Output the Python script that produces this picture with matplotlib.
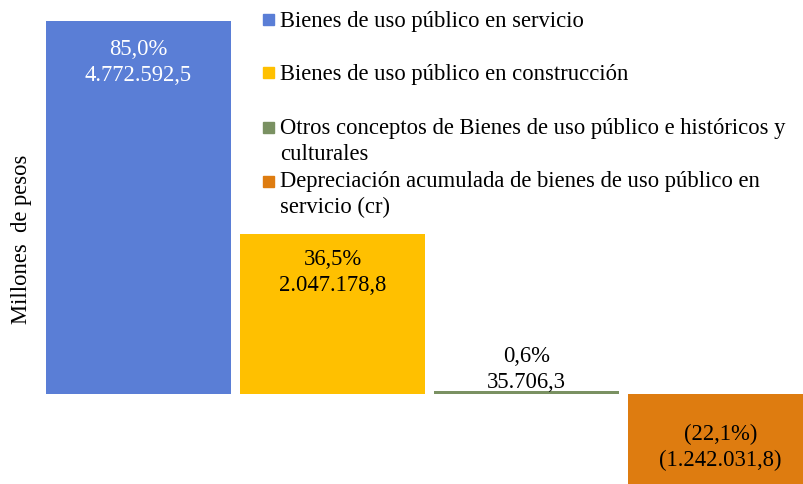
import matplotlib
matplotlib.use("Agg")
import matplotlib.pyplot as plt
from matplotlib.patches import Rectangle

plt.rcParams['font.family'] = ['Liberation Serif', 'DejaVu Serif']

# Data
categorias = [
    "Bienes de uso público en servicio",
    "Bienes de uso público en construcción",
    "Otros conceptos de Bienes de uso público e históricos y\nculturales",
    "Depreciación acumulada de bienes de uso público en\nservicio (cr)",
]
valores = [4772592.5, 2047178.8, 35706.3, -1242031.8]
porcentajes = [85.0, 36.5, 0.6, -22.1]
colores = ["#5A7ED6", "#FFC000", "#7A9162", "#DE7C10"]
color_texto = ["white", "black", "black", "black"]

FS = 16.3
LS = 1.3


def fmt_es(v, dec=1):
    s = f"{abs(v):,.{dec}f}".replace(",", "X").replace(".", ",").replace("X", ".")
    return f"({s})" if v < 0 else s


W, H = 804, 485
fig = plt.figure(figsize=(W / 100, H / 100), dpi=100)
ax = fig.add_axes([0, 0, 1, 1])

x = list(range(len(valores)))
bars = ax.bar(x, valores, width=0.953, color=colores)

# pixel layout: category 0 centred at px 138.5, 194 px per category; zero line at px 395
px_per_unit = 194.0
ax.set_xlim((0 - 138.5) / px_per_unit, (W - 138.5) / px_per_unit)
val_per_px = valores[0] / 373.0
ax.set_ylim(-(H - 395) * val_per_px, 395 * val_per_px)
ax.axis("off")

# data labels (va=baseline -> baseline of the last line)
offsets = [-59, -56, 4, -22]
for i, (b, v, p) in enumerate(zip(bars, valores, porcentajes)):
    pct = fmt_es(p) + "%" if p >= 0 else "(" + fmt_es(-p) + "%)"
    txt = f"{pct}\n{fmt_es(v)}"
    cx = b.get_x() + b.get_width() / 2
    anchor = (cx, v / 2) if v < 0 else (cx, v)
    ax.annotate(txt, anchor, xytext=(0, offsets[i]), textcoords="offset pixels",
                ha="center", va="baseline", fontsize=FS, linespacing=LS,
                color=color_texto[i])

# y label
fig.text(22 / W, 1 - 239 / H, "Millones  de pesos", rotation=90,
         ha="center", va="center", fontsize=FS)

# legend, spread over the upper right area
base_last = [27, 80, 160, 213]
marker_y = [20.5, 73.5, 128, 182]
for cat, col, yb, ym in zip(categorias, colores, base_last, marker_y):
    fig.patches.append(Rectangle((263 / W, 1 - (ym + 5.5) / H), 11 / W, 11 / H,
                                 transform=fig.transFigure, color=col))
    fig.text(280 / W, 1 - yb / H, cat, ha="left", va="baseline",
             fontsize=FS, linespacing=LS)

fig.savefig("out.png", dpi=100)
